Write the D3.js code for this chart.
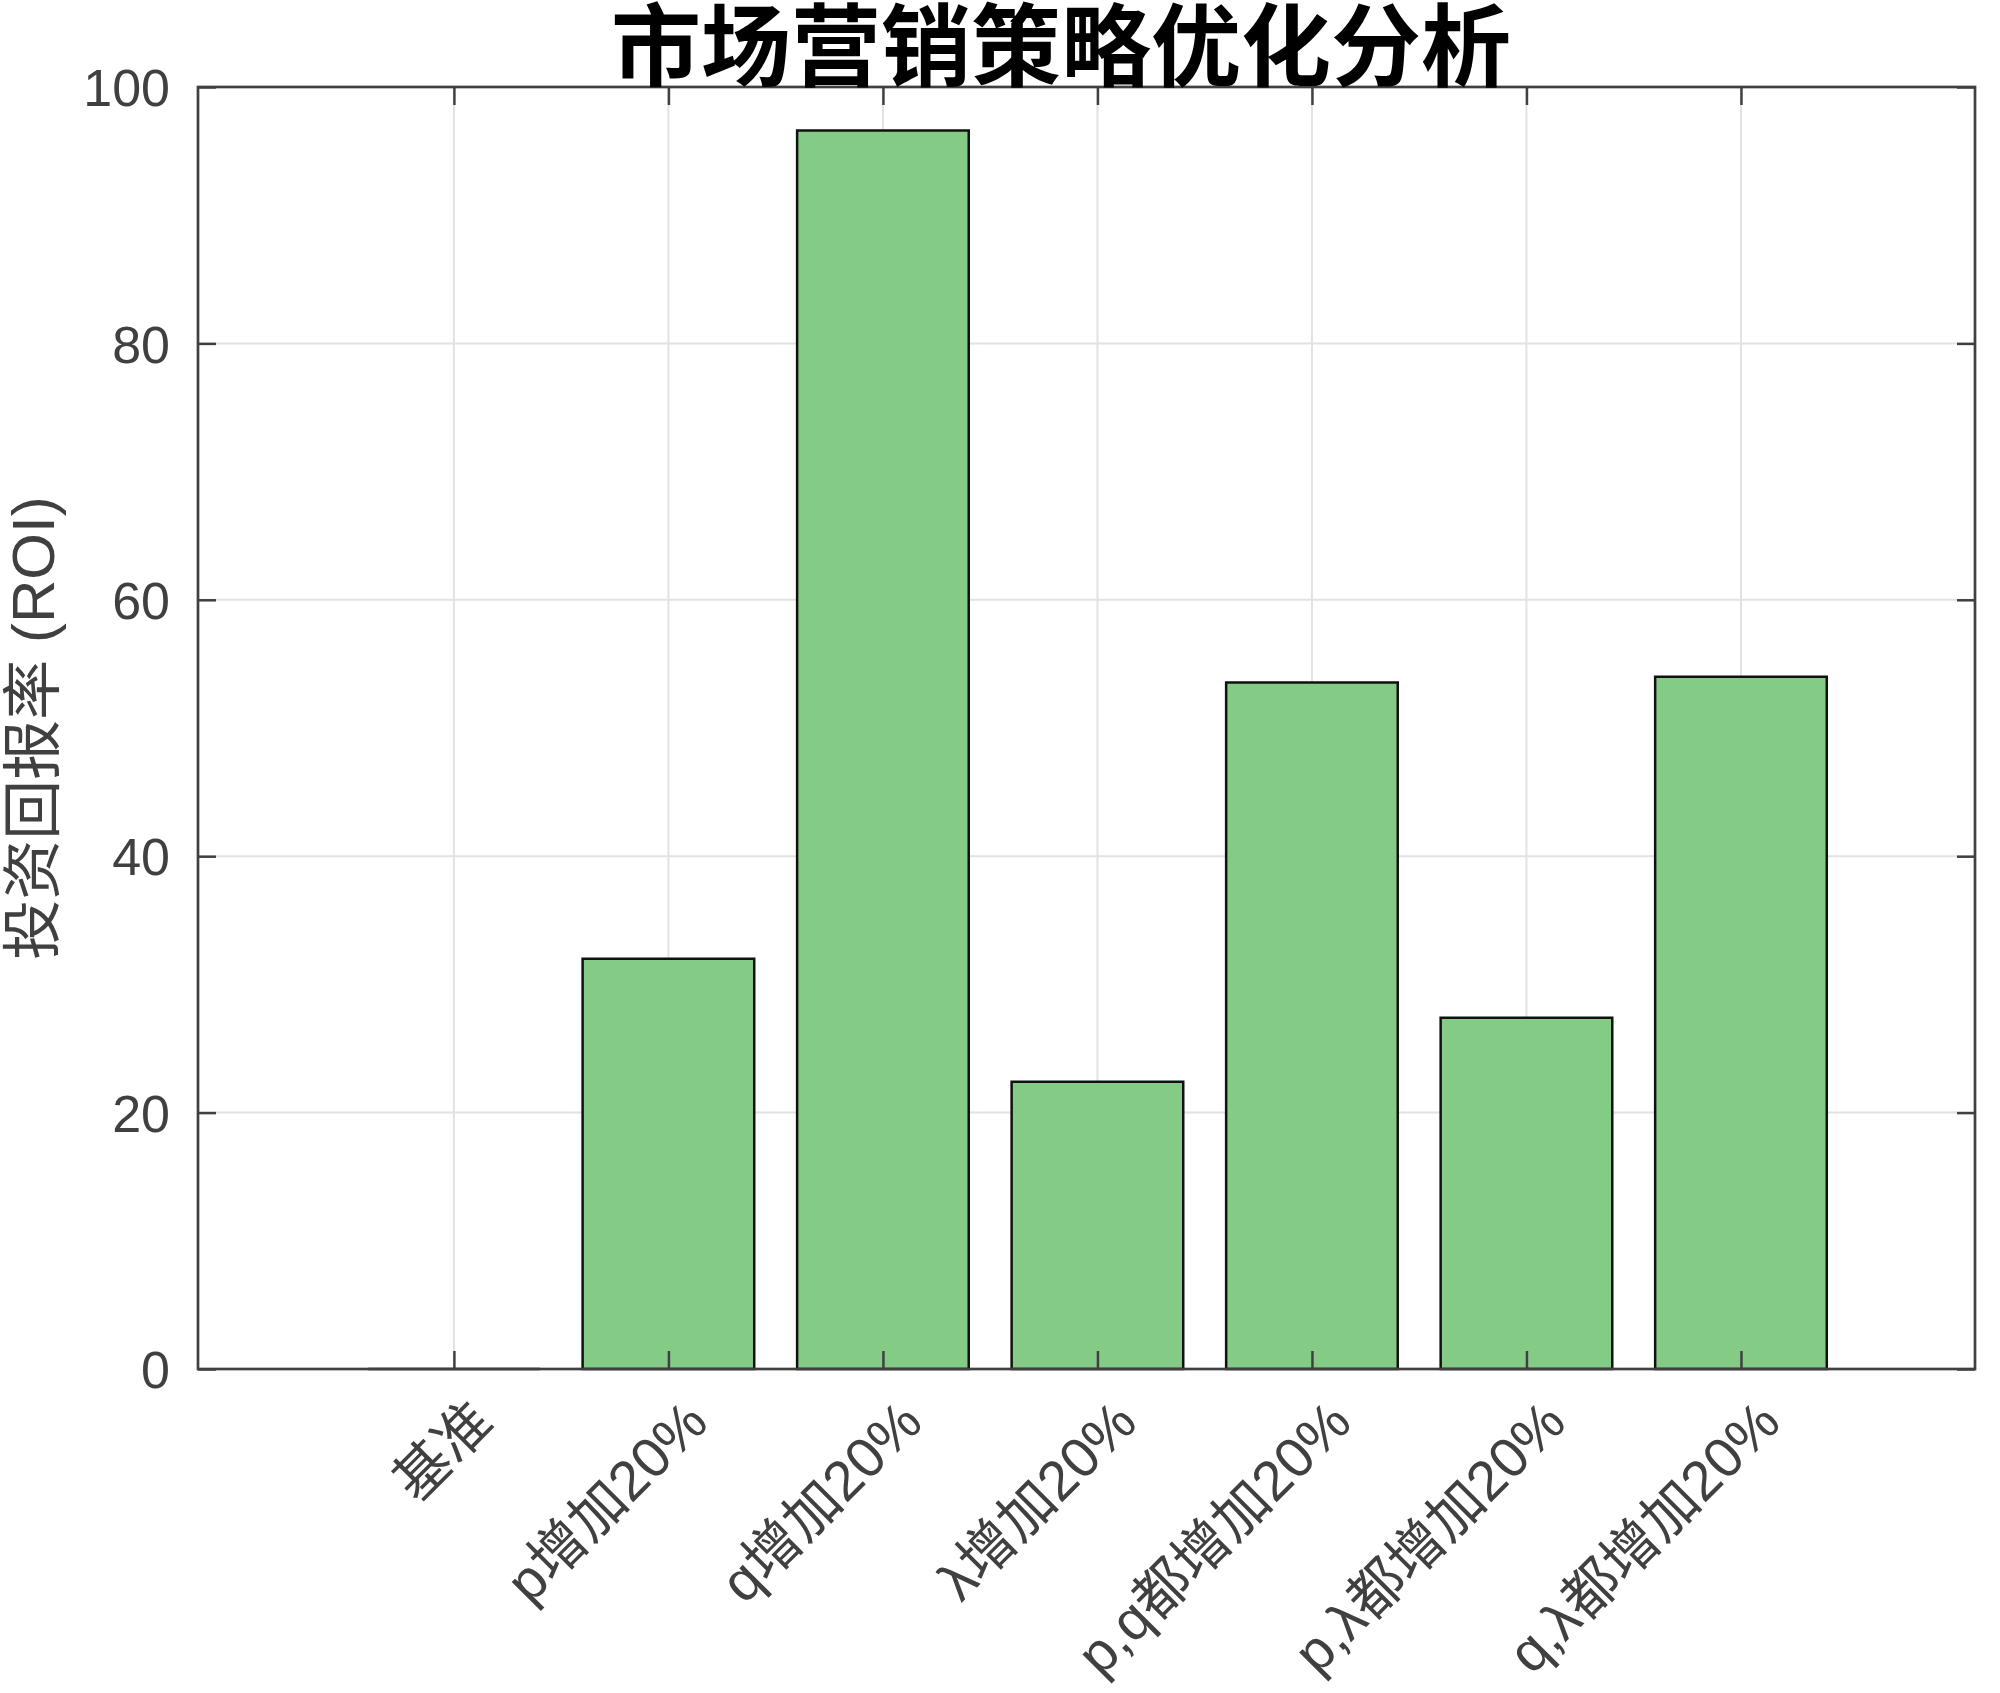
<!DOCTYPE html>
<html>
<head>
<meta charset="utf-8">
<script src="https://cdn.jsdelivr.net/npm/d3@7"></script>
<style>
  html, body { margin: 0; padding: 0; background: #fff; }
  svg { display: block; }
</style>
</head>
<body>
<script>
// ---- data ----
const categories = ["基准", "p增加20%", "q增加20%", "λ增加20%", "p,q都增加20%", "p,λ都增加20%", "q,λ都增加20%"];
const roiValues = [0, 32.0, 96.6, 22.4, 53.55, 27.4, 54.0];
const yTicks = [0, 20, 40, 60, 80, 100];
const titleText = "市场营销策略优化分析";
const yLabelText = "投资回报率 (ROI)";

// ---- layout ----
const W = 2000, H = 1693;
const L = 198, R = 1975, T = 87, B = 1369;
const latin = "'Liberation Sans', Arial, Helvetica, 'Noto Sans CJK SC', sans-serif";
const axisColor = "#404040";

const svg = d3.select("body").append("svg").attr("width", W).attr("height", H);

const idx = d3.range(categories.length);
const x = d3.scaleLinear().domain([-1.193, 7.091]).range([L, R]);
const y = d3.scaleLinear().domain([0, 100]).range([B, T]);
const bw = 0.8 * (x(1) - x(0));

// grid
const grid = svg.append("g");
grid.selectAll("line.gx").data(idx).join("line")
  .attr("x1", d => x(d)).attr("x2", d => x(d)).attr("y1", T).attr("y2", B)
  .attr("stroke", "#e2e2e2").attr("stroke-width", 2);
grid.selectAll("line.gy").data(yTicks).join("line")
  .attr("x1", L).attr("x2", R).attr("y1", d => y(d)).attr("y2", d => y(d))
  .attr("stroke", "#e2e2e2").attr("stroke-width", 2);

// bars (drawn as paths so zero-height bar still shows its edge)
svg.append("g").selectAll("path").data(roiValues).join("path")
  .attr("d", (v, i) => {
    const x0 = x(i) - bw / 2, x1 = x(i) + bw / 2, y0 = y(0), y1 = y(v);
    return `M${x0},${y0}L${x0},${y1}L${x1},${y1}L${x1},${y0}Z`;
  })
  .attr("fill", "#84cc86").attr("stroke", "#111").attr("stroke-width", 2.5);

// axes with inward ticks
const tickLen = 18;
const axL = svg.append("g").attr("transform", `translate(${L},0)`)
  .call(d3.axisLeft(y).tickValues(yTicks).tickSize(-tickLen).tickPadding(tickLen + 10));
const axR = svg.append("g").attr("transform", `translate(${R},0)`)
  .call(d3.axisRight(y).tickValues(yTicks).tickSize(-tickLen).tickFormat(""));
const axB = svg.append("g").attr("transform", `translate(0,${B})`)
  .call(d3.axisBottom(x).tickValues(idx).tickSize(-tickLen).tickFormat(""));
const axT = svg.append("g").attr("transform", `translate(0,${T})`)
  .call(d3.axisTop(x).tickValues(idx).tickSize(-tickLen).tickFormat(""));

[axL, axR, axB, axT].forEach(a => {
  a.select(".domain").remove();
  a.selectAll(".tick line").attr("stroke", axisColor).attr("stroke-width", 2.5);
});
axL.selectAll(".tick text").attr("font-family", latin).attr("font-size", 52)
  .attr("fill", axisColor).attr("dy", "0.36em");

// box
svg.append("rect").attr("x", L).attr("y", T).attr("width", R - L).attr("height", B - T)
  .attr("fill", "none").attr("stroke", axisColor).attr("stroke-width", 2.7);

// x tick labels rotated
svg.append("g").selectAll("text").data(categories).join("text")
  .attr("transform", (d, i) => `translate(${x(i) + 42},${B + 56}) rotate(-45)`)
  .attr("text-anchor", "end")
  .attr("font-family", latin).attr("font-size", 56).attr("fill", axisColor)
  .text(d => d);

// y label
svg.append("text")
  .attr("transform", `translate(54,${(T + B) / 2}) rotate(-90)`)
  .attr("text-anchor", "middle")
  .attr("font-family", latin).attr("font-size", 60).attr("fill", axisColor)
  .text(yLabelText);

// title
svg.append("text")
  .attr("x", 1061).attr("y", 79)
  .attr("text-anchor", "middle")
  .attr("font-family", "'Noto Sans CJK SC', sans-serif").attr("font-weight", "bold")
  .attr("font-size", 90).attr("fill", "#000")
  .text(titleText);
</script>
</body>
</html>
